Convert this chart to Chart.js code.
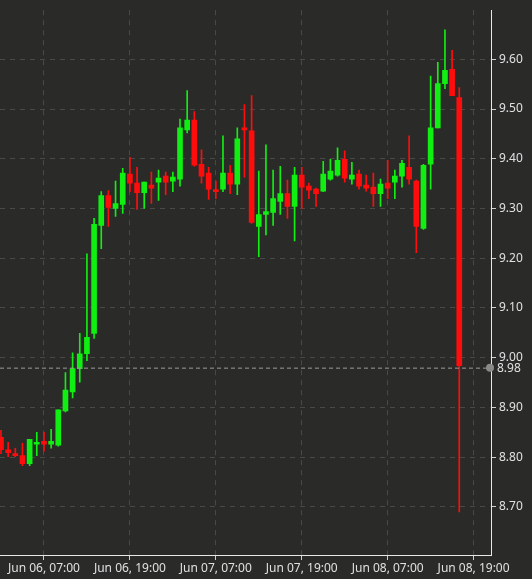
<!DOCTYPE html>
<html><head><meta charset="utf-8">
<script src="https://cdn.jsdelivr.net/npm/chart.js@4"></script>
<style>html,body{margin:0;padding:0;background:#2a2b29;}#w{width:532px;height:579px;}</style>
</head><body><div id="w"><canvas id="c"></canvas></div>
<script>
// hourly candles starting Jun 05 23:00 (index 0)
const opens  = [8.840,8.815,8.807,8.803,8.787,8.826,8.832,8.826,8.824,8.893,8.931,8.978,9.008,9.049,9.266,9.326,9.300,9.308,9.369,9.351,9.332,9.347,9.353,9.365,9.355,9.359,9.458,9.478,9.389,9.371,9.338,9.339,9.371,9.349,9.462,9.456,9.264,9.288,9.292,9.314,9.330,9.304,9.367,9.345,9.339,9.335,9.359,9.367,9.399,9.359,9.369,9.347,9.343,9.330,9.351,9.353,9.365,9.383,9.355,9.260,9.389,9.462,9.551,9.580,9.523];
const highs  = [8.854,8.830,8.818,8.828,8.836,8.850,8.850,8.856,8.895,8.970,9.010,9.049,9.209,9.280,9.334,9.336,9.355,9.381,9.403,9.383,9.353,9.373,9.377,9.373,9.373,9.480,9.537,9.495,9.418,9.383,9.355,9.446,9.387,9.462,9.509,9.527,9.375,9.428,9.377,9.385,9.357,9.383,9.383,9.351,9.341,9.395,9.399,9.422,9.416,9.393,9.377,9.367,9.371,9.359,9.397,9.377,9.397,9.446,9.357,9.389,9.566,9.594,9.659,9.618,9.543];
const lows   = [8.807,8.801,8.801,8.783,8.783,8.803,8.812,8.818,8.822,8.891,8.919,8.951,8.994,9.039,9.219,9.264,9.284,9.290,9.334,9.298,9.300,9.310,9.316,9.328,9.334,9.345,9.452,9.385,9.351,9.318,9.320,9.334,9.330,9.328,9.363,9.270,9.203,9.247,9.266,9.288,9.280,9.235,9.300,9.320,9.304,9.334,9.357,9.365,9.353,9.349,9.339,9.335,9.304,9.304,9.320,9.320,9.343,9.349,9.211,9.258,9.339,9.462,9.541,9.527,8.690];
const closes = [8.815,8.809,8.803,8.787,8.836,8.828,8.826,8.832,8.895,8.935,8.978,9.008,9.041,9.268,9.326,9.302,9.310,9.371,9.351,9.332,9.353,9.341,9.361,9.353,9.363,9.462,9.478,9.387,9.365,9.339,9.334,9.371,9.349,9.440,9.458,9.272,9.288,9.294,9.320,9.330,9.304,9.367,9.343,9.337,9.330,9.369,9.375,9.397,9.361,9.367,9.345,9.341,9.330,9.349,9.341,9.365,9.391,9.359,9.264,9.387,9.462,9.551,9.578,9.527,8.984];
const tickIdx = [6,18,30,42,54,66];
const tickLabels = ["Jun 06, 07:00","Jun 06, 19:00","Jun 07, 07:00","Jun 07, 19:00","Jun 08, 07:00","Jun 08, 19:00"];
const lastPrice = 8.98;

const UP='#11ee11', DN='#ff0d0d';
const col = opens.map((o,i)=> closes[i]>=o ? UP : DN);
const bodies = opens.map((o,i)=>({x:i,y:[o,closes[i]]}));
const wicks = opens.map((o,i)=>({x:i,y:[lows[i],highs[i]]}));

const lastLine = {
  id:'lastLine',
  afterDatasetsDraw(ch){
    const {ctx,chartArea:a,scales:{y}}=ch;
    const py=y.getPixelForValue(lastPrice);
    ctx.save();
    ctx.strokeStyle='#9a9a9a';ctx.lineWidth=1;ctx.setLineDash([4,3]);
    ctx.beginPath();ctx.moveTo(a.left,py+0.5);ctx.lineTo(a.right,py+0.5);ctx.stroke();
    ctx.setLineDash([]);
    ctx.fillStyle='#8a8a8a';ctx.beginPath();ctx.arc(a.right-1,py,4,0,Math.PI*2);ctx.fill();
    ctx.fillStyle='#e0e0e0';ctx.font='12px "Noto Sans"';ctx.textBaseline='middle';
    ctx.fillText(lastPrice.toFixed(2),a.right+6,py+1);
    ctx.restore();
  }
};

new Chart(document.getElementById('c'),{
  type:'bar',
  data:{datasets:[
    {data:wicks,backgroundColor:col,barThickness:1,grouped:false,order:2},
    {data:bodies,backgroundColor:col,barThickness:5,grouped:false,minBarLength:2,order:1}
  ]},
  options:{
    responsive:true,maintainAspectRatio:false,animation:false,
    layout:{padding:0},
    plugins:{legend:{display:false},tooltip:{enabled:false}},
    scales:{
      x:{type:'linear',min:-0.14,max:68.43,offset:false,
        afterBuildTicks(s){s.ticks=tickIdx.map(v=>({value:v}));},
        afterFit(s){s.height=24;},
        ticks:{autoSkip:false,maxRotation:0,color:'#e0e0e0',font:{family:'Noto Sans',size:12},padding:1,
          callback(v){const k=tickIdx.indexOf(v);return k>=0?tickLabels[k]:'';}},
        grid:{offset:false,color:'rgba(110,110,110,0.45)',tickColor:'#d0d0d0',tickLength:5},
        border:{display:true,color:'#e8e8e8',dash:[5,5]}
      },
      y:{position:'right',min:8.6033,max:9.6987,
        afterBuildTicks(s){const t=[];for(let v=8.7;v<=9.601;v+=0.1)t.push({value:+v.toFixed(2)});s.ticks=t;},
        afterFit(s){s.width=41;},
        ticks:{color:'#e0e0e0',font:{family:'Noto Sans',size:12},padding:3,callback:v=>(+v).toFixed(2)},
        grid:{color:'rgba(110,110,110,0.45)',tickColor:'#d0d0d0',tickLength:5},
        border:{display:true,color:'#e8e8e8',dash:[5,5]}
      }
    }
  },
  plugins:[lastLine]
});
</script></body></html>
